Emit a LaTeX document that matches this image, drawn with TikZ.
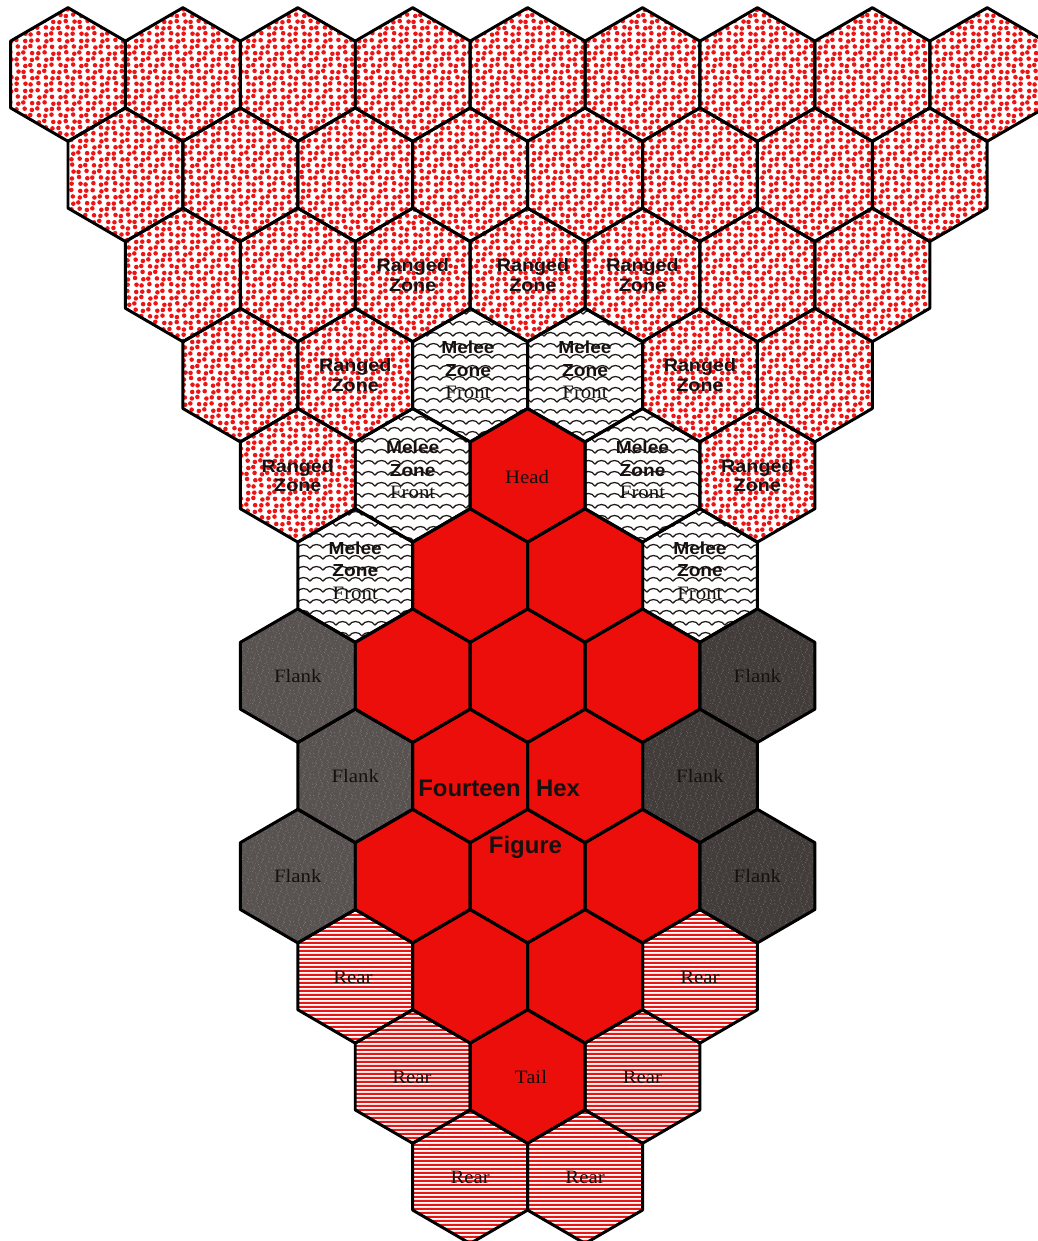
\documentclass[tikz,border=0pt]{standalone}
\usepackage{fontspec}
\setmainfont{Liberation Serif}
\newfontfamily\zonefam[FakeStretch=1.1]{Liberation Sans}
\newfontfamily\figfam{Liberation Sans}
\newfontfamily\tagfam[FakeStretch=1.1]{Liberation Serif}
\usetikzlibrary{patterns}

\definecolor{hexred}{RGB}{236,14,10}
\definecolor{dotred}{RGB}{236,20,20}
\definecolor{stripered}{RGB}{234,22,22}
\definecolor{flankL}{RGB}{88,83,81}
\definecolor{flankR}{RGB}{66,60,58}
\definecolor{ink}{RGB}{22,16,16}
\definecolor{wave}{RGB}{36,28,26}

% jittered red stipple (all dots kept inside the tile)
\pgfdeclarepatternformonly{reddots}{\pgfqpoint{0pt}{0pt}}{\pgfqpoint{56pt}{50.4pt}}{\pgfqpoint{56pt}{50.4pt}}{%
  \foreach \i in {0,...,7}{\foreach \j in {0,...,7}{%
    \pgfmathsetmacro\px{3.5+7*\i+1.1*sin(137*\i+251*\j+40)}%
    \pgfmathsetmacro\py{3.15+6.3*\j+0.8*cos(211*\i+97*\j+10)}%
    \pgfpathcircle{\pgfqpoint{\px pt}{\py pt}}{2.3pt}\pgfusepath{fill}}}}

% scalloped waves
\pgfdeclarepatternformonly{scallops}{\pgfqpoint{0pt}{0pt}}{\pgfqpoint{13pt}{10.6pt}}{\pgfqpoint{13pt}{10.6pt}}{%
  \pgfsetlinewidth{1.3pt}%
  \pgfpathmoveto{\pgfqpoint{0pt}{3pt}}%
  \pgfpathcurveto{\pgfqpoint{2.5pt}{8pt}}{\pgfqpoint{10.5pt}{8pt}}{\pgfqpoint{13pt}{3pt}}%
  \pgfusepath{stroke}}

% horizontal red stripes
\pgfdeclarepatternformonly{redstripes}{\pgfqpoint{0pt}{0pt}}{\pgfqpoint{10pt}{4.3pt}}{\pgfqpoint{10pt}{4.3pt}}{%
  \pgfpathrectangle{\pgfqpoint{-1pt}{0pt}}{\pgfqpoint{12pt}{2.6pt}}\pgfusepath{fill}}

% fine grain for the flank hexes
\pgfdeclarepatternformonly{grain}{\pgfqpoint{0pt}{0pt}}{\pgfqpoint{21pt}{21pt}}{\pgfqpoint{21pt}{21pt}}{%
  \foreach \i in {0,...,6}{\foreach \j in {0,...,6}{%
    \pgfmathsetmacro\px{1.5+3*\i+1.2*sin(173*\i+311*\j+20)}%
    \pgfmathsetmacro\py{1.5+3*\j+1.2*cos(229*\i+83*\j+50)}%
    \pgfpathcircle{\pgfqpoint{\px pt}{\py pt}}{0.45pt}\pgfusepath{fill}}}}

\newcommand\hexcell[3]{\path[#3, shift={({68+57.45*#1},{74.5+100.2*(#2-1)})}]
  (0,-66.8) -- (57.45,-33.4) -- (57.45,33.4) -- (0,66.8) -- (-57.45,33.4) -- (-57.45,-33.4) -- cycle;}

\tikzset{
  dotzone/.style={pattern=reddots, pattern color=dotred},
  meleezone/.style={pattern=scallops, pattern color=wave},
  figurehex/.style={fill=hexred},
  flankleft/.style={fill=flankL, postaction={pattern=grain, pattern color=flankL!75!white}},
  flankright/.style={fill=flankR, postaction={pattern=grain, pattern color=flankR!75!white}},
  rearzone/.style={pattern=redstripes, pattern color=stripered},
  hexedge/.style={draw=black, line width=3pt, line join=round},
  zonelabel/.style={font=\zonefam\bfseries\fontsize{18}{19.5}\selectfont, text=ink, align=center, inner sep=0pt},
  meleelabel/.style={font=\zonefam\bfseries\fontsize{17.5}{22.5}\selectfont, text=ink, align=center, inner sep=0pt},
  taglabel/.style={font=\tagfam\fontsize{19}{22}\selectfont, text=ink, inner sep=0pt},
  figlabel/.style={font=\figfam\bfseries\fontsize{24}{28}\selectfont, text=ink, inner sep=0pt, anchor=base},
}

\begin{document}
\begin{tikzpicture}[x=1bp, y=-1bp]
\useasboundingbox (0,0) rectangle (1038,1241);
\fill[white] (0,0) rectangle (1038,1241);
\clip (0,0) rectangle (1038,1241);

% fills
\foreach \c in {0,2,...,16} {\hexcell{\c}{1}{dotzone}}
\foreach \c in {1,3,...,15} {\hexcell{\c}{2}{dotzone}}
\foreach \c in {2,4,...,14} {\hexcell{\c}{3}{dotzone}}
\foreach \c/\r in {3/4,5/4,11/4,13/4,4/5,12/5} {\hexcell{\c}{\r}{dotzone}}
\foreach \c/\r in {7/4,9/4,6/5,10/5,5/6,11/6} {\hexcell{\c}{\r}{meleezone}}
\foreach \c/\r in {8/5,7/6,9/6,6/7,8/7,10/7,7/8,9/8,6/9,8/9,10/9,7/10,9/10,8/11} {\hexcell{\c}{\r}{figurehex}}
\foreach \c/\r in {4/7,5/8,4/9} {\hexcell{\c}{\r}{flankleft}}
\foreach \c/\r in {12/7,11/8,12/9} {\hexcell{\c}{\r}{flankright}}
\foreach \c/\r in {5/10,11/10,6/11,10/11,7/12,9/12} {\hexcell{\c}{\r}{rearzone}}

% outlines
\foreach \c in {0,2,...,16} {\hexcell{\c}{1}{hexedge}}
\foreach \c in {1,3,...,15} {\hexcell{\c}{2}{hexedge}}
\foreach \c in {2,4,...,14} {\hexcell{\c}{3}{hexedge}}
\foreach \c in {3,5,...,13} {\hexcell{\c}{4}{hexedge}}
\foreach \c in {4,6,...,12} {\hexcell{\c}{5}{hexedge}}
\foreach \c in {5,7,...,11} {\hexcell{\c}{6}{hexedge}}
\foreach \c in {4,6,...,12} {\hexcell{\c}{7}{hexedge}}
\foreach \c in {5,7,...,11} {\hexcell{\c}{8}{hexedge}}
\foreach \c in {4,6,...,12} {\hexcell{\c}{9}{hexedge}}
\foreach \c in {5,7,...,11} {\hexcell{\c}{10}{hexedge}}
\foreach \c in {6,8,10} {\hexcell{\c}{11}{hexedge}}
\foreach \c in {7,9} {\hexcell{\c}{12}{hexedge}}

% labels
\node[zonelabel] (rz1) at (412.7,274.9) {Ranged\\Zone};
\node[zonelabel] (rz2) at (533,274.9) {Ranged\\Zone};
\node[zonelabel] (rz3) at (642.5,274.9) {Ranged\\Zone};
\node[zonelabel] (rz4) at (355.25,375.1) {Ranged\\Zone};
\node[zonelabel] (rz5) at (699.95,375.1) {Ranged\\Zone};
\node[zonelabel] (rz6) at (297.8,475.3) {Ranged\\Zone};
\node[zonelabel] (rz7) at (757.4,475.3) {Ranged\\Zone};

\node[meleelabel] (mz1) at (468,370) {Melee\\Zone\\{\tagfam\mdseries\fontsize{19}{22.5}\selectfont Front}};
\node[meleelabel] (mz2) at (585,370) {Melee\\Zone\\{\tagfam\mdseries\fontsize{19}{22.5}\selectfont Front}};
\node[meleelabel] (mz3) at (412.7,470) {Melee\\Zone\\{\tagfam\mdseries\fontsize{19}{22.5}\selectfont Front}};
\node[meleelabel] (mz4) at (642.5,470) {Melee\\Zone\\{\tagfam\mdseries\fontsize{19}{22.5}\selectfont Front}};
\node[meleelabel] (mz5) at (355.25,570.5) {Melee\\Zone\\{\tagfam\mdseries\fontsize{19}{22.5}\selectfont Front}};
\node[meleelabel] (mz6) at (699.95,570.5) {Melee\\Zone\\{\tagfam\mdseries\fontsize{19}{22.5}\selectfont Front}};

\node[taglabel] (head) at (527,477) {Head};
\node[taglabel] (tail) at (531,1077) {Tail};

\node[taglabel] (fl1) at (297.8,676) {Flank};
\node[taglabel] (fl2) at (355.25,776) {Flank};
\node[taglabel] (fl3) at (297.8,876) {Flank};
\node[taglabel] (fl4) at (757.4,676) {Flank};
\node[taglabel] (fl5) at (699.95,776) {Flank};
\node[taglabel] (fl6) at (757.4,876) {Flank};

\node[taglabel] (re1) at (353,977) {Rear};
\node[taglabel] (re2) at (699.95,977) {Rear};
\node[taglabel] (re3) at (412,1077) {Rear};
\node[taglabel] (re4) at (642.5,1077) {Rear};
\node[taglabel] (re5) at (470.15,1177) {Rear};
\node[taglabel] (re6) at (585.05,1177) {Rear};

\node[figlabel] (fourteen) at (469.5,796) {Fourteen};
\node[figlabel] (hexword) at (558,796) {Hex};
\node[figlabel] (figure) at (525.5,853) {Figure};
\end{tikzpicture}
\end{document}
